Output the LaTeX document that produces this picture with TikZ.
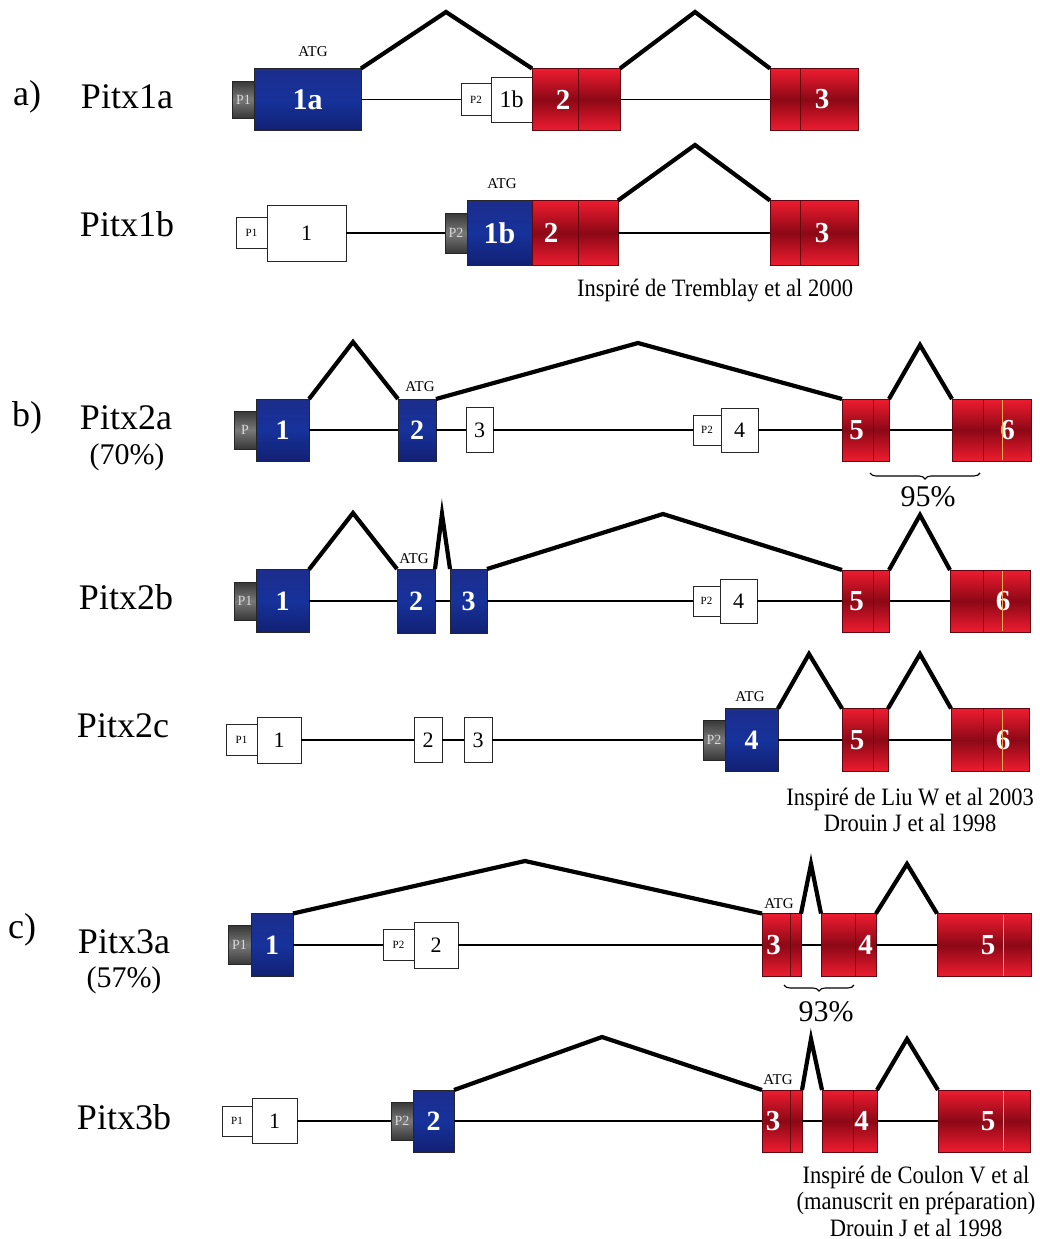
\documentclass[tikz,border=0pt]{standalone}
\usepackage{fontspec}
\setmainfont{Liberation Serif}
\newfontfamily\condserif[FakeStretch=0.9]{Liberation Serif}
\usetikzlibrary{decorations.pathreplacing}
\definecolor{bluetop}{RGB}{28,45,140}
\definecolor{bluemid}{RGB}{22,50,155}
\definecolor{bluebot}{RGB}{18,32,115}
\definecolor{redtop}{RGB}{238,28,48}
\definecolor{redmid}{RGB}{140,8,22}
\definecolor{greytop}{RGB}{55,55,55}
\definecolor{greymid}{RGB}{120,120,120}
\definecolor{sepcol}{RGB}{95,5,15}
\definecolor{orangeline}{RGB}{255,170,80}
\tikzset{
  ex/.style={rectangle, inner sep=0pt, outer sep=0pt, draw=black!85, line width=0.9pt},
  blueex/.style={ex, top color=bluetop, bottom color=bluebot, middle color=bluemid, text=white, font=\bfseries\fontsize{28}{28}\selectfont},
  redex/.style={ex, draw=sepcol, top color=redtop, bottom color=redtop, middle color=redmid},
  greyp/.style={ex, top color=greytop, bottom color=greytop, middle color=greymid, text=white!85!black, font=\fontsize{14}{14}\selectfont},
  whitebox/.style={ex, fill=white, font=\fontsize{22}{22}\selectfont},
  wp/.style={ex, fill=white, font=\fontsize{11}{11}\selectfont},
  rlab/.style={text=white, inner sep=0pt, font=\bfseries\fontsize{29}{29}\selectfont},
  intron/.style={line width=1.4pt},
  splice/.style={line width=4.2pt, line join=miter, line cap=butt},
  sepline/.style={line width=1pt, draw=sepcol},
  orline/.style={line width=0.9pt, draw=orangeline},
  atglab/.style={font=\fontsize{15}{15}\selectfont, inner sep=0pt},
  genename/.style={font=\fontsize{36}{36}\selectfont, inner sep=0pt},
  pctlab/.style={font=\fontsize{30}{30}\selectfont, inner sep=0pt},
  citelab/.style={font=\condserif\fontsize{25}{26.5}\selectfont, align=center, inner sep=0pt},
  brc/.style={decorate, decoration={brace, mirror, amplitude=6pt}, line width=1.1pt}
}
\newcommand\exsep[2]{\draw[sepline] ([xshift=#2]#1.north) -- ([xshift=#2]#1.south);}
\newcommand\exor[2]{\draw[orline] ([xshift=#2,yshift=-1pt]#1.north) -- ([xshift=#2,yshift=1pt]#1.south);}
\begin{document}
\begin{tikzpicture}[x=1pt,y=-1pt]
\fill[white] (0,0) rectangle (1039,1239);
\useasboundingbox (0,0) rectangle (1039,1239);

% ---------------- labels on the left
\node[genename] (la) at (27,97) {a)};
\node[genename] (n1a) at (127,97) {Pitx1a};
\node[genename] (n1b) at (127,224) {Pitx1b};
\node[genename] (lb) at (27,418) {b)};
\node[genename] (n2a) at (126,418) {Pitx2a};
\node[pctlab] (p2a) at (127,457) {(70\%)};
\node[genename] (n2b) at (126,597) {Pitx2b};
\node[genename] (n2c) at (123,726) {Pitx2c};
\node[genename] (lc) at (22,930) {c)};
\node[genename] (n3a) at (124,942) {Pitx3a};
\node[pctlab] (p3a) at (124,980) {(57\%)};
\node[genename] (n3b) at (124,1117) {Pitx3b};

% ---------------- Pitx1a
\node[greyp, minimum width=23, minimum height=37] (a1p1) at (243.5,99.5) {P1};
\node[blueex, minimum width=107, minimum height=62] (a1e1a) at (307.5,99.5) {\fontsize{30}{30}\selectfont 1a};
\node[wp, minimum width=30, minimum height=32] (a1p2) at (476,99.5) {P2};
\node[whitebox, minimum width=41, minimum height=45] (a1e1b) at (511.5,99.5) {\fontsize{24}{24}\selectfont 1b};
\node[redex, minimum width=88, minimum height=62, label={[rlab, xshift=-13pt]center:2}] (a1e2) at (576,99.5) {};
\node[redex, minimum width=88, minimum height=62, label={[rlab, xshift=8pt]center:3}] (a1e3) at (814,99.5) {};
\exsep{a1e2}{2pt}
\exsep{a1e3}{-14pt}
\node[atglab] (a1atg) at (313,52) {ATG};
\coordinate (a1k1) at (446,12);
\coordinate (a1k2) at (695,12);
\draw[intron] (a1e1a.east) -- (a1p2.west);
\draw[intron] (a1e2.east) -- (a1e3.west);
\draw[splice] (a1e1a.north east) -- (a1k1) -- (a1e2.north west);
\draw[splice] (a1e2.north east) -- (a1k2) -- (a1e3.north west);

% ---------------- Pitx1b
\node[wp, minimum width=31, minimum height=31] (b1p1) at (251.5,233) {P1};
\node[whitebox, minimum width=79, minimum height=56] (b1e1) at (306.5,233) {1};
\node[greyp, minimum width=22, minimum height=40] (b1p2) at (456,233) {P2};
\node[blueex, minimum width=65, minimum height=65] (b1e1b) at (499.5,233) {\fontsize{30}{30}\selectfont 1b};
\node[redex, minimum width=86, minimum height=65, label={[rlab, xshift=-24pt]center:2}] (b1e2) at (575,233) {};
\node[redex, minimum width=88, minimum height=65, label={[rlab, xshift=8pt]center:3}] (b1e3) at (814,233) {};
\exsep{b1e2}{3pt}
\exsep{b1e3}{-14pt}
\node[atglab] (b1atg) at (502,184) {ATG};
\coordinate (b1k) at (695,145);
\draw[intron] (b1e1.east) -- (b1p2.west);
\draw[intron] (b1e2.east) -- (b1e3.west);
\draw[splice] (b1e2.north east) -- (b1k) -- (b1e3.north west);
\node[citelab] (cit1) at (715,291) {Inspiré de Tremblay et al 2000};

% ---------------- Pitx2a
\node[greyp, minimum width=22, minimum height=38] (c2p) at (245,430) {P};
\node[blueex, minimum width=53, minimum height=62] (c2e1) at (282.5,430) {1};
\node[blueex, minimum width=38, minimum height=62] (c2e2) at (417,430) {2};
\node[whitebox, minimum width=27, minimum height=45] (c2e3) at (479.5,430) {3};
\node[wp, minimum width=28, minimum height=30] (c2p2) at (707,430) {P2};
\node[whitebox, minimum width=37, minimum height=44] (c2e4) at (739.5,430) {4};
\node[redex, minimum width=47, minimum height=62, label={[rlab, xshift=-9pt]center:5}] (c2e5) at (865.5,430) {};
\node[redex, minimum width=79, minimum height=62, label={[rlab, xshift=16pt]center:6}] (c2e6) at (991.5,430) {};
\exsep{c2e5}{7.5pt}
\exsep{c2e6}{-8.5pt}
\exor{c2e6}{10.5pt}
\node[atglab] (c2atg) at (420,387) {ATG};
\coordinate (c2k1) at (353,342);
\coordinate (c2k2) at (638,343);
\coordinate (c2k3) at (920,345);
\draw[intron] (c2e1.east) -- (c2e2.west);
\draw[intron] (c2e2.east) -- (c2e3.west);
\draw[intron] (c2e3.east) -- (c2p2.west);
\draw[intron] (c2e4.east) -- (c2e5.west);
\draw[intron] (c2e5.east) -- (c2e6.west);
\draw[splice] (c2e1.north east) -- (c2k1) -- (c2e2.north west);
\draw[splice] (c2e2.north east) -- (c2k2) -- (c2e5.north west);
\draw[splice] (c2e5.north east) -- (c2k3) -- (c2e6.north west);
\coordinate (c2bl) at (870,473);
\coordinate (c2br) at (980,473);
\draw[brc] (c2bl) -- (c2br);
\node[pctlab] (c2pc) at (928,497) {95\%};

% ---------------- Pitx2b
\node[greyp, minimum width=22, minimum height=38] (d2p) at (245,601) {P1};
\node[blueex, minimum width=53, minimum height=63] (d2e1) at (282.5,601) {1};
\node[blueex, minimum width=38, minimum height=64] (d2e2) at (416,601) {2};
\node[blueex, minimum width=37, minimum height=64] (d2e3) at (468.5,601) {3};
\node[wp, minimum width=27, minimum height=30] (d2p2) at (706.5,601) {P2};
\node[whitebox, minimum width=37, minimum height=44] (d2e4) at (738.5,601) {4};
\node[redex, minimum width=47, minimum height=62, label={[rlab, xshift=-9pt]center:5}] (d2e5) at (865.5,601) {};
\node[redex, minimum width=80, minimum height=62, label={[rlab, xshift=13pt]center:6}] (d2e6) at (990,601) {};
\exsep{d2e5}{7.5pt}
\exsep{d2e6}{-7pt}
\exor{d2e6}{12pt}
\node[atglab] (d2atg) at (414,559) {ATG};
\coordinate (d2k1) at (353,513);
\coordinate (d2k2) at (442,514);
\coordinate (d2k3) at (663,514);
\coordinate (d2k4) at (920,515);
\draw[intron] (d2e1.east) -- (d2e2.west);
\draw[intron] (d2e2.east) -- (d2e3.west);
\draw[intron] (d2e3.east) -- (d2p2.west);
\draw[intron] (d2e4.east) -- (d2e5.west);
\draw[intron] (d2e5.east) -- (d2e6.west);
\draw[splice] (d2e1.north east) -- (d2k1) -- (d2e2.north west);
\draw[splice] (d2e2.north east) -- (d2k2) -- (d2e3.north west);
\draw[splice] (d2e3.north east) -- (d2k3) -- (d2e5.north west);
\draw[splice] (d2e5.north east) -- (d2k4) -- (d2e6.north west);

% ---------------- Pitx2c
\node[wp, minimum width=31, minimum height=31] (e2p1) at (241.5,740) {P1};
\node[whitebox, minimum width=44, minimum height=46] (e2e1) at (279,740) {1};
\node[whitebox, minimum width=28, minimum height=45] (e2e2) at (428,740) {2};
\node[whitebox, minimum width=28, minimum height=45] (e2e3) at (478,740) {3};
\node[greyp, minimum width=22, minimum height=40] (e2p2) at (714,740) {P2};
\node[blueex, minimum width=53, minimum height=63] (e2e4) at (751.5,740) {4};
\node[redex, minimum width=46, minimum height=63, label={[rlab, xshift=-8pt]center:5}] (e2e5) at (865,740) {};
\node[redex, minimum width=78, minimum height=63, label={[rlab, xshift=13pt]center:6}] (e2e6) at (990,740) {};
\exsep{e2e5}{8pt}
\exsep{e2e6}{-7pt}
\exor{e2e6}{12pt}
\node[atglab] (e2atg) at (750,697) {ATG};
\coordinate (e2k1) at (809,654);
\coordinate (e2k2) at (920,654);
\draw[intron] (e2e1.east) -- (e2e2.west);
\draw[intron] (e2e2.east) -- (e2e3.west);
\draw[intron] (e2e3.east) -- (e2p2.west);
\draw[intron] (e2e4.east) -- (e2e5.west);
\draw[intron] (e2e5.east) -- (e2e6.west);
\draw[splice] (e2e4.north east) -- (e2k1) -- (e2e5.north west);
\draw[splice] (e2e5.north east) -- (e2k2) -- (e2e6.north west);
\node[citelab] (cit2) at (910,810) {Inspiré de Liu W et al 2003\\Drouin J et al 1998};

% ---------------- Pitx3a
\node[greyp, minimum width=23, minimum height=39] (f3p1) at (239.5,945) {P1};
\node[blueex, minimum width=42, minimum height=63] (f3e1) at (272,945) {1};
\node[wp, minimum width=31, minimum height=31] (f3p2) at (398.5,945) {P2};
\node[whitebox, minimum width=44, minimum height=46] (f3e2) at (436,945) {2};
\node[redex, minimum width=39, minimum height=63, label={[rlab, xshift=-8pt]center:3}] (f3e3) at (781.5,945) {};
\node[redex, minimum width=55, minimum height=63, label={[rlab, xshift=17pt]center:4}] (f3e4) at (848.5,945) {};
\node[redex, minimum width=94, minimum height=63, label={[rlab, xshift=4pt]center:5}] (f3e5) at (984,945) {};
\exsep{f3e3}{8.5pt}
\exsep{f3e4}{6.5pt}
\exor{f3e5}{19pt}
\node[atglab] (f3atg) at (779,904) {ATG};
\coordinate (f3k1) at (525,861);
\coordinate (f3k2) at (811,864);
\coordinate (f3k3) at (907,864);
\draw[intron] (f3e1.east) -- (f3p2.west);
\draw[intron] (f3e2.east) -- (f3e3.west);
\draw[intron] (f3e3.east) -- (f3e4.west);
\draw[intron] (f3e4.east) -- (f3e5.west);
\draw[splice] (f3e1.north east) -- (f3k1) -- (f3e3.north west);
\draw[splice] (f3e3.north east) -- (f3k2) -- (f3e4.north west);
\draw[splice] (f3e4.north east) -- (f3k3) -- (f3e5.north west);
\coordinate (f3bl) at (784,985);
\coordinate (f3br) at (854,985);
\draw[brc] (f3bl) -- (f3br);
\node[pctlab] (f3pc) at (826,1012) {93\%};

% ---------------- Pitx3b
\node[wp, minimum width=30, minimum height=30] (g3p1) at (237,1121) {P1};
\node[whitebox, minimum width=45, minimum height=45] (g3e1) at (274.5,1121) {1};
\node[greyp, minimum width=22, minimum height=38] (g3p2) at (402,1121) {P2};
\node[blueex, minimum width=41, minimum height=62] (g3e2) at (433.5,1121) {2};
\node[redex, minimum width=40, minimum height=62, label={[rlab, xshift=-9pt]center:3}] (g3e3) at (782,1121) {};
\node[redex, minimum width=55, minimum height=62, label={[rlab, xshift=12pt]center:4}] (g3e4) at (849.5,1121) {};
\node[redex, minimum width=92, minimum height=62, label={[rlab, xshift=4pt]center:5}] (g3e5) at (984,1121) {};
\exsep{g3e3}{8pt}
\exsep{g3e4}{3.5pt}
\exor{g3e5}{19pt}
\node[atglab] (g3atg) at (778,1080) {ATG};
\coordinate (g3k1) at (602,1037);
\coordinate (g3k2) at (811,1039);
\coordinate (g3k3) at (907,1039);
\draw[intron] (g3e1.east) -- (g3p2.west);
\draw[intron] (g3e2.east) -- (g3e3.west);
\draw[intron] (g3e3.east) -- (g3e4.west);
\draw[intron] (g3e4.east) -- (g3e5.west);
\draw[splice] (g3e2.north east) -- (g3k1) -- (g3e3.north west);
\draw[splice] (g3e3.north east) -- (g3k2) -- (g3e4.north west);
\draw[splice] (g3e4.north east) -- (g3k3) -- (g3e5.north west);
\node[citelab] (cit3) at (916,1201) {Inspiré de Coulon V et al\\(manuscrit en préparation)\\Drouin J et al 1998};
\end{tikzpicture}
\end{document}
